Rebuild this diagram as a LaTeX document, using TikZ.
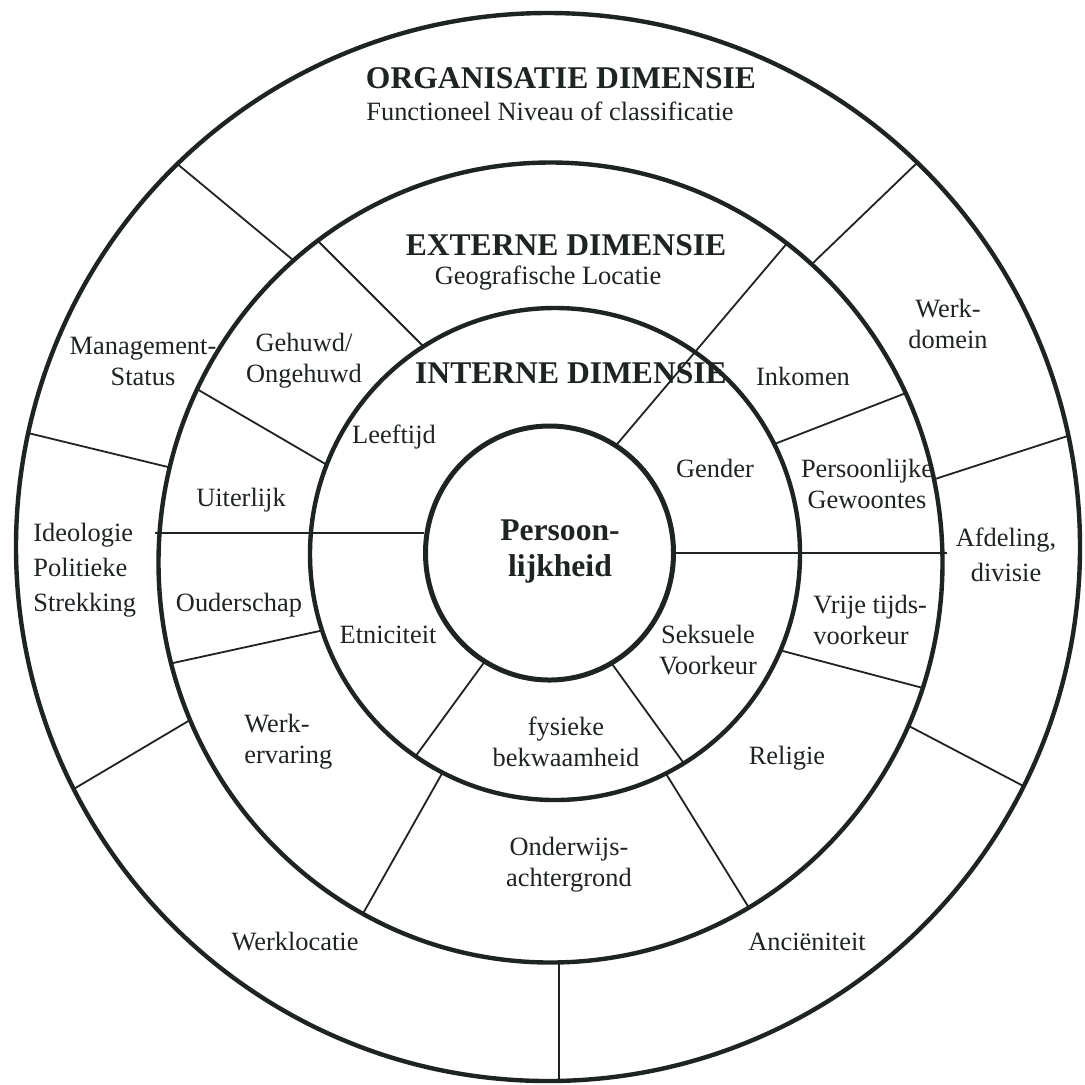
\documentclass[tikz,border=0pt]{standalone}
\usepackage{fontspec}
\setmainfont{Liberation Serif}
\usetikzlibrary{calc}
\definecolor{ink}{RGB}{30,36,34}
\begin{document}
\begin{tikzpicture}[x=0.5pt,y=-0.5pt,
  ring/.style={draw=ink,line width=2.2pt},
  core/.style={draw=ink,line width=2.5pt},
  spoke/.style={draw=ink,line width=0.9pt,shorten <=-20pt,shorten >=-20pt},
  hline/.style={draw=ink,line width=1.1pt},
  lbl/.style={font=\fontsize{13.2}{15.5}\selectfont,text=ink,align=center,inner sep=0pt},
  lblw/.style={font=\fontsize{13.2}{17.5}\selectfont,text=ink,align=center,inner sep=0pt},
  ttl/.style={font=\fontsize{15.8}{18}\selectfont\bfseries,text=ink,align=center,inner sep=0pt},
]
\useasboundingbox (0,0) rectangle (1085,1084);
\fill[white] (0,0) rectangle (1085,1084);

% spoke coordinates (outer ring)
\coordinate (o1a) at (187,172);  \coordinate (o1b) at (293,260);
\coordinate (o2a) at (920,160);  \coordinate (o2b) at (814,262);
\coordinate (o3a) at (935,479);  \coordinate (o3b) at (1080,432);
\coordinate (o4a) at (907,725);  \coordinate (o4b) at (1031,790);
\coordinate (o5a) at (559,962);  \coordinate (o5b) at (559,1082);
\coordinate (o6a) at (185,723);  \coordinate (o6b) at (72,790);
\coordinate (o7a) at (28,433);   \coordinate (o7b) at (168,467);
% external ring
\coordinate (e1a) at (323,246);  \coordinate (e1b) at (422,345);
\coordinate (e3a) at (906,393);  \coordinate (e3b) at (777,443);
\coordinate (e5a) at (779,650);  \coordinate (e5b) at (923,688);
\coordinate (e6a) at (668,777);  \coordinate (e6b) at (746,903);
\coordinate (e7a) at (440,777);  \coordinate (e7b) at (365,910);
\coordinate (e8a) at (315,632);  \coordinate (e8b) at (173,663);
\coordinate (e10a) at (202,392); \coordinate (e10b) at (322,462);
% spanning lines
\coordinate (e2a) at (783,248);  \coordinate (e2b) at (618,443);
\coordinate (e4a) at (674,553);  \coordinate (e4b) at (947,553);
\coordinate (e9a) at (155,533);  \coordinate (e9b) at (424,533);
% internal ring
\coordinate (i4a) at (615,668);  \coordinate (i4b) at (680,758);
\coordinate (i5a) at (480,668);  \coordinate (i5b) at (415,757);

% outer ring spokes
\begin{scope}
  \clip (548,547) ellipse [x radius=532, y radius=534];
  \foreach \s in {o1,o2,o3,o4,o5,o6,o7} \draw[spoke] (\s a) -- (\s b);
\end{scope}
\fill[white] (550.5,562.5) ellipse [x radius=392, y radius=400];
% external ring spokes
\begin{scope}
  \clip (550.5,562.5) ellipse [x radius=392, y radius=400];
  \foreach \s in {e1,e3,e5,e6,e7,e8,e10} \draw[spoke] (\s a) -- (\s b);
\end{scope}
\fill[white] (555,554) ellipse [x radius=245, y radius=246];
\begin{scope}
  \clip (550.5,562.5) ellipse [x radius=392, y radius=400];
  \draw[spoke] (e2a) -- (e2b);
\end{scope}
\begin{scope}
  \clip (555,554) ellipse [x radius=245, y radius=246];
  \foreach \s in {i4,i5} \draw[spoke] (\s a) -- (\s b);
\end{scope}
\fill[white] (549.5,553) ellipse [x radius=124, y radius=127];
\draw[hline] (e4a) -- (e4b);
\draw[hline] (e9a) -- (e9b);

% rings
\draw[ring] (548,547) ellipse [x radius=532, y radius=534];
\draw[ring] (550.5,562.5) ellipse [x radius=392, y radius=400];
\draw[ring] (555,554) ellipse [x radius=245, y radius=246];
\draw[core] (549.5,553) ellipse [x radius=124, y radius=127];

% titles
\node[ttl] (org) at (561,78) {ORGANISATIE DIMENSIE};
\node[lbl] (orgsub) at (550,111) {Functioneel Niveau of classificatie};
\node[ttl] (ext) at (566,245) {EXTERNE DIMENSIE};
\node[lbl] (extsub) at (548,278) {Geografische Locatie};
\node[ttl] (int) at (571,373) {INTERNE DIMENSIE};
\node[ttl] (pers) at (560,551) {Persoon-\\lijkheid};

% outer ring labels
\node[lbl] (mgmt) at (143,361) {Management-\\Status};
\node[lbl] (werkd) at (948,324) {Werk-\\domein};
\node[lblw,align=left,anchor=west] (ideo) at (33,570) {Ideologie\\Politieke\\Strekking};
\node[lblw] (afd) at (1006,555) {Afdeling,\\divisie};
\node[lbl] (werkl) at (295,942) {Werklocatie};
\node[lbl] (anc) at (807,942) {Anciëniteit};

% external ring labels
\node[lbl] (geh) at (304,361) {Gehuwd/\\Ongehuwd};
\node[lbl] (ink) at (803,376) {Inkomen};
\node[lbl] (uit) at (241,500) {Uiterlijk};
\node[lbl] (gew) at (867,484) {Persoonlijke\\Gewoontes};
\node[lbl] (oud) at (239,605) {Ouderschap};
\node[lbl,align=left,anchor=west] (vrije) at (813,620) {Vrije tijds-\\voorkeur};
\node[lbl,align=left,anchor=west] (werke) at (244,742) {Werk-\\ervaring};
\node[lbl] (rel) at (787,758) {Religie};
\node[lbl] (ond) at (569,865) {Onderwijs-\\achtergrond};

% internal ring labels
\node[lbl] (leef) at (394,437) {Leeftijd};
\node[lbl] (gend) at (715,468) {Gender};
\node[lbl] (etn) at (388,635) {Etniciteit};
\node[lbl] (seks) at (708,650) {Seksuele\\Voorkeur};
\node[lbl] (fys) at (566,742) {fysieke\\bekwaamheid};
\end{tikzpicture}
\end{document}
